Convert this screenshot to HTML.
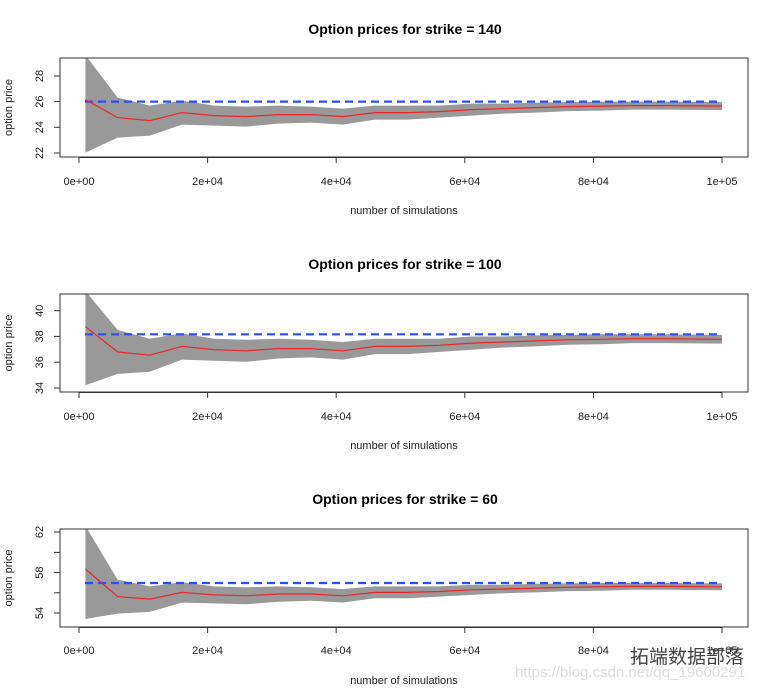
<!DOCTYPE html>
<html><head><meta charset="utf-8"><style>
body{margin:0;background:#fff;width:768px;height:689px;overflow:hidden}
svg{font-family:"Liberation Sans",Arial,sans-serif}
</style></head><body>
<svg id="s" width="768" height="689" xmlns="http://www.w3.org/2000/svg"></svg>
<script>
const s=document.getElementById('s');let h='';
const panels=[
 {title:'Option prices for strike = 140',ty:29,top:58,bot:157,blue:101.6,ticks:[[22,153],[24,127.3],[26,101.6],[28,76]],labels:[22,24,26,28],lab:181,xl:210,m:1,m0:-2,b0:51},
 {title:'Option prices for strike = 100',ty:264,top:294,bot:392,blue:334.3,ticks:[[34,388],[36,362.2],[38,336.4],[40,310.7]],labels:[34,36,38,40],lab:416,xl:445,m:1.1,m0:-7.6,b0:51},
 {title:'Option prices for strike = 60',ty:499,top:529,bot:627,blue:583,ticks:[[54,613],[56,592.8],[58,572.6],[60,552.4],[62,532]],labels:[54,58,62],lab:650,xl:680,m:0.85,m0:-14,b0:36}
];
const mean=[0,16,19,11,14,15,13,13,15,11,11,10,8,7,6,5,4.5,4,4,4.5];
const hw=[0,20,15,12,10,10,9,8,8,7,7,6,6,5,5,4.5,4.5,4,4,4];
const X=v=>79+v*0.006435;
const xs=[];for(let i=0;i<19;i++)xs.push(X(1000+5000*i));xs.push(722);
panels.forEach((p,k)=>{
 h+=`<text x="405" y="${p.ty+5}" text-anchor="middle" font-size="14" font-weight="bold">${p.title}</text>`;
 h+=`<clipPath id="c${k}"><rect x="60" y="${p.top}" width="688" height="${p.bot-p.top}"/></clipPath>`;
 let up=[],lo=[],mn=[];
 xs.forEach((x,i)=>{
  let m,u,l;
  if(i==0){m=p.blue+p.m0;u=p.top-3;l=p.blue+p.b0;}
  else{m=p.blue+mean[i]*p.m;u=m-hw[i]*p.m;l=m+hw[i]*p.m;}
  up.push(x.toFixed(1)+','+u.toFixed(1));lo.push(x.toFixed(1)+','+l.toFixed(1));mn.push(x.toFixed(1)+','+m.toFixed(1));
 });
 h+=`<g clip-path="url(#c${k})"><polygon points="${up.join(' ')} ${lo.reverse().join(' ')}" fill="#999"/>`;
 h+=`<line x1="85" x2="722" y1="${p.blue}" y2="${p.blue}" stroke="#2a4dff" stroke-width="2.2" stroke-dasharray="8,5"/>`;
 h+=`<polyline points="${mn.join(' ')}" fill="none" stroke="#e8262a" stroke-width="1.2"/></g>`;
 h+=`<rect x="60" y="${p.top}" width="688" height="${p.bot-p.top}" fill="none" stroke="#333" stroke-width="1"/>`;
 const t0=p.ticks[0][1],t1=p.ticks[p.ticks.length-1][1];
 h+=`<line x1="60" x2="60" y1="${t0}" y2="${t1}" stroke="#333"/>`;
 p.ticks.forEach(([v,y])=>{
  h+=`<line x1="54" x2="60" y1="${y}" y2="${y}" stroke="#333"/>`;
  if(p.labels.includes(v))h+=`<text transform="translate(43,${y}) rotate(-90)" text-anchor="middle" font-size="11" fill="#222">${v}</text>`;
 });
 h+=`<text transform="translate(12,${(p.top+p.bot)/2}) rotate(-90)" text-anchor="middle" font-size="11" fill="#222">option price</text>`;
 const ay=p.bot;
 h+=`<line x1="79" x2="722" y1="${ay+0.5}" y2="${ay+0.5}" stroke="#333"/>`;
 ['0e+00','2e+04','4e+04','6e+04','8e+04','1e+05'].forEach((t,i)=>{
  const x=79+i*128.6;
  h+=`<line x1="${x}" x2="${x}" y1="${ay}" y2="${ay+6}" stroke="#333"/>`;
  h+=`<text x="${x}" y="${p.lab+4}" text-anchor="middle" font-size="11" fill="#222">${t}</text>`;
 });
 h+=`<text x="404" y="${p.xl+4}" text-anchor="middle" font-size="11" fill="#222">number of simulations</text>`;
});
h+=`<text x="630" y="663" font-size="19" fill="#444" font-family="Noto Sans CJK SC,sans-serif">拓端数据部落</text>`;
h+=`<text x="515" y="677" font-size="15" fill="#ddd">https://blog.csdn.net/qq_19600291</text>`;
s.innerHTML=h;
</script>
</body></html>
